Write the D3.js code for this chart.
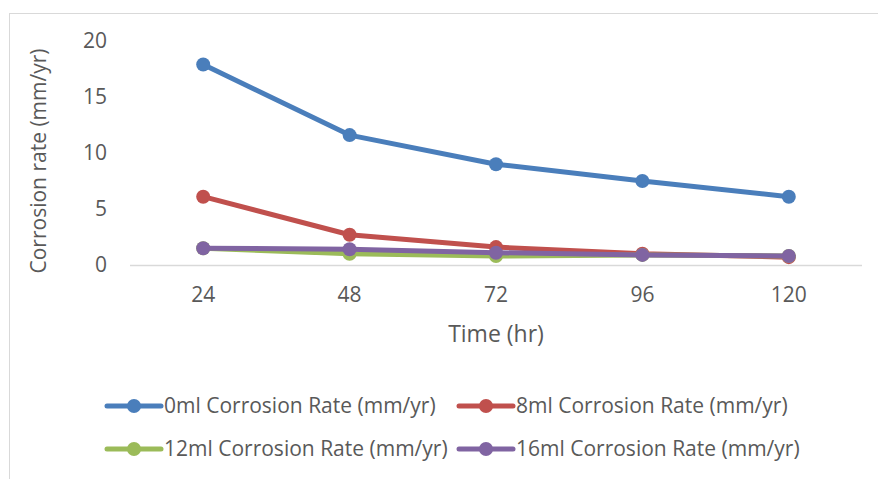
<!DOCTYPE html>
<html>
<head>
<meta charset="utf-8">
<script src="https://cdn.jsdelivr.net/npm/d3@7"></script>
<style>
  body { margin: 0; background: #fff; }
  text { font-family: "Open Sans", sans-serif; fill: #595959; }
</style>
</head>
<body>
<svg id="drawing_region"></svg>
<script>
// data
const hours = ['24', '48', '72', '96', '120'];
const seriesNames = [
    '0ml Corrosion Rate (mm/yr)',
    '8ml Corrosion Rate (mm/yr)',
    '12ml Corrosion Rate (mm/yr)',
    '16ml Corrosion Rate (mm/yr)'
];
const rate0 = [17.9, 11.6, 9.0, 7.5, 6.1];
const rate8 = [6.1, 2.7, 1.6, 1.0, 0.7];
const rate12 = [1.5, 1.0, 0.8, 0.9, 0.8];
const rate16 = [1.5, 1.4, 1.1, 0.9, 0.8];
const yTicks = [0, 5, 10, 15, 20];
const colors = ['#4a7ebb', '#c0504d', '#9bbb59', '#8064a2'];

const series = [rate0, rate8, rate12, rate16].map((v, i) => ({
    name: seriesNames[i],
    color: colors[i],
    values: v.map((y, j) => ({ x: hours[j], y: y }))
}));

const config = {
    width: 878,
    height: 479,
    margin: { top: 41, right: 16, bottom: 214, left: 130 }
};

const svg = d3.select('#drawing_region')
    .attr('width', config.width)
    .attr('height', config.height);

// chart area border
svg.append('rect')
    .attr('x', 9.5).attr('y', 13.5)
    .attr('width', 900).attr('height', 500)
    .attr('fill', 'none')
    .attr('stroke', '#d9d9d9');

const inner_width = config.width - config.margin.left - config.margin.right;
const inner_height = config.height - config.margin.top - config.margin.bottom;

const chart = svg.append('g')
    .attr('transform', `translate(${config.margin.left}, ${config.margin.top})`);

const xscale = d3.scaleBand()
    .domain(hours)
    .range([0, inner_width]);

const yscale = d3.scaleLinear()
    .domain([0, 20])
    .range([inner_height, 0]);

// baseline
chart.append('line')
    .attr('x1', 0).attr('x2', inner_width)
    .attr('y1', yscale(0) + 0.5).attr('y2', yscale(0) + 0.5)
    .attr('stroke', '#d9d9d9')
    .attr('stroke-width', 1.5);

const yaxis = d3.axisLeft(yscale).tickValues(yTicks).tickSize(0).tickPadding(23);
const yaxis_group = chart.append('g').call(yaxis);
yaxis_group.select('.domain').remove();
yaxis_group.selectAll('text')
    .style('font-family', '"Open Sans", sans-serif')
    .attr('font-size', 21)
    .attr('fill', '#595959');

const xaxis = d3.axisBottom(xscale).tickSize(0).tickPadding(22);
const xaxis_group = chart.append('g')
    .attr('transform', `translate(0, ${inner_height})`)
    .call(xaxis);
xaxis_group.select('.domain').remove();
xaxis_group.selectAll('text')
    .style('font-family', '"Open Sans", sans-serif')
    .attr('font-size', 21)
    .attr('fill', '#595959');

// axis titles
svg.append('text')
    .attr('transform', 'translate(46, 161) rotate(-90)')
    .attr('text-anchor', 'middle')
    .attr('font-size', 21)
    .text('Corrosion rate (mm/yr)');

svg.append('text')
    .attr('x', 496).attr('y', 342)
    .attr('text-anchor', 'middle')
    .attr('font-size', 23)
    .text('Time (hr)');

const line = d3.line()
    .x(d => xscale(d.x) + xscale.bandwidth() / 2)
    .y(d => yscale(d.y));

series.forEach(s => {
    const g = chart.append('g');
    g.append('path')
        .attr('d', line(s.values))
        .attr('fill', 'none')
        .attr('stroke', s.color)
        .attr('stroke-width', 5)
        .attr('stroke-linejoin', 'round')
        .attr('stroke-linecap', 'round');
    g.selectAll('circle')
        .data(s.values)
        .join('circle')
        .attr('cx', d => xscale(d.x) + xscale.bandwidth() / 2)
        .attr('cy', d => yscale(d.y))
        .attr('r', 7)
        .attr('fill', s.color);
});

// legend
const legendPos = [[107, 406], [459, 406], [107, 449], [459, 449]];
series.forEach((s, i) => {
    const [lx, ly] = legendPos[i];
    const g = svg.append('g').attr('transform', `translate(${lx}, ${ly})`);
    g.append('line')
        .attr('x1', 0).attr('x2', 54)
        .attr('y1', 0).attr('y2', 0)
        .attr('stroke', s.color)
        .attr('stroke-width', 5)
        .attr('stroke-linecap', 'round');
    g.append('circle')
        .attr('cx', 27).attr('cy', 0).attr('r', 7)
        .attr('fill', s.color);
    g.append('text')
        .attr('x', 57).attr('y', 0)
        .attr('dy', '0.35em')
        .attr('font-size', 21)
        .text(s.name);
});
</script>
</body>
</html>
